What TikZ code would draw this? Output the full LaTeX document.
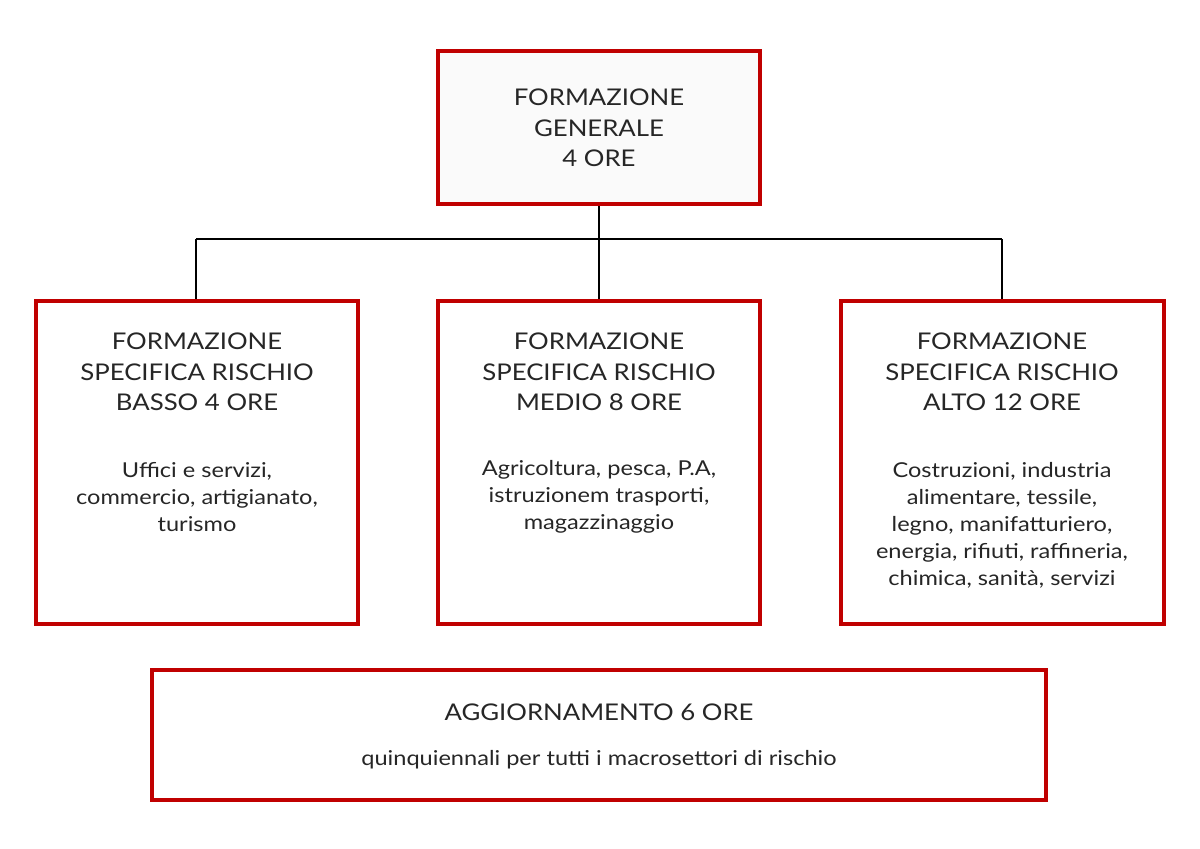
\documentclass[tikz,border=0pt]{standalone}
\usepackage{fontspec}
\setmainfont{Lato}
\newfontfamily\headfont{Lato}[FakeStretch=1.12]
\newfontfamily\bodyfont{Lato}[FakeStretch=1.15]
\definecolor{boxred}{HTML}{C00000}
\begin{document}
\begin{tikzpicture}[x=1pt,y=-1pt,
  box/.style={draw=boxred,line width=4.5pt,inner sep=0pt},
  head/.style={align=center,font=\headfont\fontsize{23}{30.5}\selectfont,text=black!85},
  body/.style={align=center,font=\bodyfont\fontsize{20.5}{27}\selectfont,text=black!85},
  conn/.style={draw=black,line width=2.4pt}]
\useasboundingbox[fill=white] (0,0) rectangle (1200,849);
\node[box,fill=black!2,minimum width=322pt,minimum height=153pt] (top) at (599,127.5) {};
\node[box,fill=white,minimum width=322pt,minimum height=323pt] (l) at (197,462.5) {};
\node[box,fill=white,minimum width=322pt,minimum height=323pt] (m) at (599,462.5) {};
\node[box,fill=white,minimum width=323pt,minimum height=323pt] (r) at (1002.5,462.5) {};
\node[box,fill=white,minimum width=894pt,minimum height=130pt] (b) at (599,735) {};
\coordinate (j) at (599,239);
\coordinate (jl) at (196,239);
\coordinate (jr) at (1002,239);
\draw[conn] (top.south) -- (j) -- (m.north);
\draw[conn] (jl) -- (jr);
\draw[conn] (jl) -- (l.north -| jl);
\draw[conn] (jr) -- (r.north -| jr);
\node[head] (tt) at (599,128) {FORMAZIONE\\GENERALE\\4 ORE};
\node[head] (lh) at (197,372) {FORMAZIONE\\SPECIFICA RISCHIO\\BASSO 4 ORE};
\node[head] (mh) at (599,372) {FORMAZIONE\\SPECIFICA RISCHIO\\MEDIO 8 ORE};
\node[head] (rh) at (1002,372) {FORMAZIONE\\SPECIFICA RISCHIO\\ALTO 12 ORE};
\node[body] (lb) at (197,497) {Uffici e servizi,\\commercio, artigianato,\\turismo};
\node[body] (mb) at (599,497) {Agricoltura, pesca, P.A,\\istruzionem trasporti,\\magazzinaggio};
\node[body] (rb) at (1002,525) {Costruzioni, industria\\alimentare, tessile,\\legno, manifatturiero,\\energia, rifiuti, raffineria,\\chimica, sanità, servizi};
\node[head] (bh) at (599,712) {AGGIORNAMENTO 6 ORE};
\node[body] (bb) at (599,760) {quinquiennali per tutti i macrosettori di rischio};
\end{tikzpicture}
\end{document}
